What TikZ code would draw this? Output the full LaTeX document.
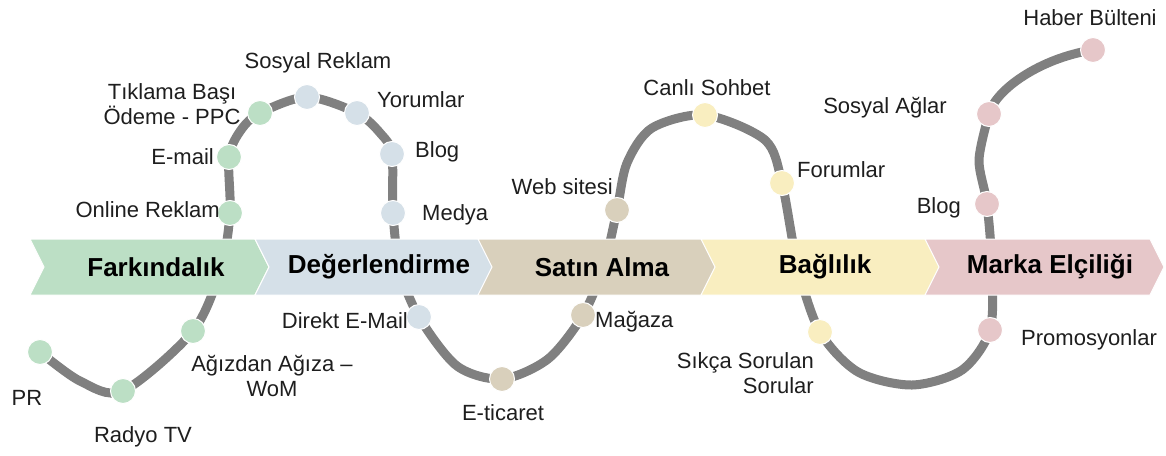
\documentclass[tikz,border=0pt]{standalone}
\usepackage{fontspec}
\setmainfont{Liberation Sans}
\definecolor{cGreen}{RGB}{188,223,197}
\definecolor{cBlue}{RGB}{213,224,232}
\definecolor{cTan}{RGB}{217,208,188}
\definecolor{cYellow}{RGB}{249,238,192}
\definecolor{cPink}{RGB}{230,199,201}
\definecolor{cCurve}{RGB}{128,128,128}
\definecolor{cText}{RGB}{30,30,30}
\begin{document}
\begin{tikzpicture}[x=1pt,y=-1pt,
  curve/.style={draw=cCurve,line width=9pt},
  dot/.style={circle,draw=white,line width=1pt,minimum size=25pt,inner sep=0pt},
  lbl/.style={inner sep=0pt,text=cText,font=\fontsize{22}{25}\selectfont},
  stage/.style={inner sep=0pt,text=black,font=\fontsize{26}{28}\selectfont\bfseries},
  chev/.style={draw=white,line width=1pt}]
\useasboundingbox (0,0) rectangle (1166,455);

% stations along the journey line
\coordinate (pr) at (40,352);
\coordinate (radyo) at (123,391);
\coordinate (agiz) at (193,331);
\coordinate (online) at (230,213);
\coordinate (email) at (229,157);
\coordinate (ppc) at (260,113);
\coordinate (sosyal) at (307,97);
\coordinate (yorum) at (357,113);
\coordinate (blogb) at (392,154);
\coordinate (medya) at (393,213);
\coordinate (direkt) at (419,317);
\coordinate (eticaret) at (502,379);
\coordinate (magaza) at (583,315);
\coordinate (web) at (617,210);
\coordinate (canli) at (705,115);
\coordinate (forum) at (782,183);
\coordinate (sss) at (820,332);
\coordinate (promo) at (990,330);
\coordinate (blogp) at (987,204);
\coordinate (sagl) at (989,114);
\coordinate (haber) at (1093,50);

% shaping points between stations
\coordinate (a1) at (80,381);
\coordinate (a2) at (221,268);
\coordinate (a3) at (241,130);
\coordinate (a4) at (381,134);
\coordinate (a5) at (400,270);
\coordinate (a6) at (457,366);
\coordinate (a7) at (548,359);
\coordinate (a8) at (604,265);
\coordinate (a9) at (627,163);
\coordinate (a9b) at (652,128);
\coordinate (a10) at (765,140);
\coordinate (a11) at (798,268);
\coordinate (a12) at (858,372);
\coordinate (a13) at (912,385);
\coordinate (a14) at (962,370);
\coordinate (a15) at (992,268);
\coordinate (a16) at (979,160);
\coordinate (k1) at (995,90);
\coordinate (k2) at (1040,58);

% the journey line
\draw[curve] plot[smooth,tension=0.5] coordinates {(pr) (a1) (radyo) (agiz) (a2) (online) (email) (a3) (ppc) (sosyal) (yorum) (a4) (blogb) (medya) (a5) (direkt) (a6) (eticaret) (a7) (magaza) (a8) (web) (a9) (a9b) (canli) (a10) (forum) (a11) (sss) (a12) (a13) (a14) (promo) (a15) (blogp) (a16) (sagl)}
  .. controls (k1) and (k2) .. (haber);

% stage chevrons
\foreach \xo/\col in {30/cGreen,255/cBlue,478/cTan,701/cYellow,925/cPink}{
  \fill[chev,fill=\col] (\xo,239) -- ++(225,0) -- ++(14,28) -- ++(-14,28) -- ++(-225,0) -- ++(14,-28) -- cycle;
}
\node[stage] (s1) at (156,267) {Farkındalık};
\node[stage] (s2) at (379,267) {Değerlendirme};
\node[stage] (s3) at (602,267) {Satın Alma};
\node[stage] (s4) at (825,267) {Bağlılık};
\node[stage] (s5) at (1050,267) {Marka Elçiliği};

% station dots
\foreach \n in {pr,radyo,agiz,online,email,ppc}{\node[dot,fill=cGreen] (d-\n) at (\n) {};}
\foreach \n in {sosyal,yorum,blogb,medya,direkt}{\node[dot,fill=cBlue] (d-\n) at (\n) {};}
\foreach \n in {eticaret,magaza,web}{\node[dot,fill=cTan] (d-\n) at (\n) {};}
\foreach \n in {canli,forum,sss}{\node[dot,fill=cYellow] (d-\n) at (\n) {};}
\foreach \n in {promo,blogp,sagl,haber}{\node[dot,fill=cPink] (d-\n) at (\n) {};}

% station labels
\node[lbl] (t-pr) at (27,398) {PR};
\node[lbl] (t-radyo) at (143,437) {Radyo TV};
\node[lbl,align=center] (t-agiz) at (272,376) {Ağızdan Ağıza –\\WoM};
\node[lbl,anchor=east] (t-online) at (220,210) {Online Reklam};
\node[lbl,anchor=east] (t-email) at (214,157) {E-mail};
\node[lbl,align=center] (t-ppc) at (172,104) {Tıklama Başı\\Ödeme - PPC};
\node[lbl] (t-sosyal) at (318,63) {Sosyal Reklam};
\node[lbl,anchor=west] (t-yorum) at (377,100) {Yorumlar};
\node[lbl,anchor=west] (t-blogb) at (415,152) {Blog};
\node[lbl,anchor=west] (t-medya) at (422,215) {Medya};
\node[lbl,anchor=east] (t-direkt) at (408,321) {Direkt E-Mail};
\node[lbl] (t-eticaret) at (503,413) {E-ticaret};
\node[lbl,anchor=west] (t-magaza) at (595,322) {Mağaza};
\node[lbl,anchor=east] (t-web) at (613,187) {Web sitesi};
\node[lbl] (t-canli) at (707,88) {Canlı Sohbet};
\node[lbl,anchor=west] (t-forum) at (797,170) {Forumlar};
\node[lbl,align=right,anchor=east] (t-sss) at (814,373) {Sıkça Sorulan\\Sorular};
\node[lbl,anchor=west] (t-promo) at (1021,340) {Promosyonlar};
\node[lbl,anchor=east] (t-blogp) at (961,208) {Blog};
\node[lbl] (t-sagl) at (885,108) {Sosyal Ağlar};
\node[lbl] (t-haber) at (1090,18) {Haber Bülteni};
\end{tikzpicture}
\end{document}
